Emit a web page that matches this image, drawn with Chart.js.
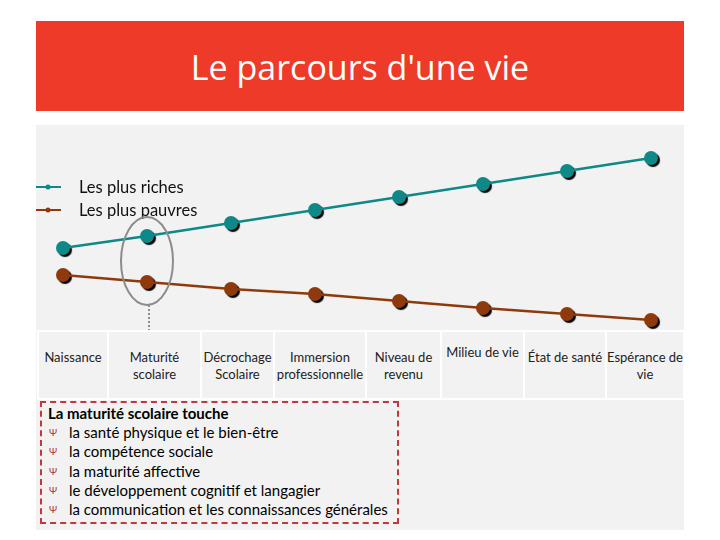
<!DOCTYPE html>
<html lang="fr">
<head>
<meta charset="UTF-8">
<title>Le parcours d'une vie</title>
<script src="https://cdn.jsdelivr.net/npm/chart.js"></script>
<style>
    body { margin: 0; width: 720px; height: 540px; background: #fff; position: relative; font-family: Lato, "Open Sans", sans-serif; overflow: hidden; }
    #banner { position: absolute; left: 36px; top: 21px; width: 648px; height: 90px; background: #EE3A28; color: #fff;
              font-family: "Open Sans", Lato, sans-serif; font-size: 34px; text-align: center; line-height: 92px; }
    #panel { position: absolute; left: 36px; top: 125px; width: 648px; height: 405px; background: #F2F2F2; }
    #chartBox { position: absolute; left: 36px; top: 125px; width: 648px; height: 205px; }
    #labels { position: absolute; left: 37px; top: 330px; height: 70px; display: flex; background: #fff; }
    #labels div { box-sizing: border-box; height: 66px; margin: 2px 2px 2px 0; padding-top: 17px; text-align: center;
                  font-size: 13px; line-height: 17px; color: #222; background: #F2F2F2; }
    #labels div:first-child { margin-left: 2px; }
    #note { position: absolute; left: 40px; top: 401px; width: 349px; height: 118px; border: 2px dashed #C0393F;
            padding: 1px 0 0 6px; font-size: 15px; line-height: 19.2px; color: #000; white-space: nowrap; }
    #note b { font-weight: 700; }
    #note ul { margin: 0; padding: 0; list-style: none; }
    #note li { margin: 0; padding: 0; }
    #note .bul { display: inline-block; width: 21px; padding-left: 1px; box-sizing: border-box; font-size: 10px; color: #B03A3A; vertical-align: top; }
</style>
</head>
<body>
<div id="banner">Le parcours d'une vie</div>
<div id="panel"></div>
<div id="chartBox"><canvas id="lifeChart"></canvas></div>
<div id="labels"></div>
<div id="note">
    <b>La maturité scolaire touche</b>
    <ul id="noteList"></ul>
</div>

<script>
    // Etapes de la vie (catégories)
    const categories = [
        ['Naissance'], ['Maturité', 'scolaire'], ['Décrochage', 'Scolaire'], ['Immersion', 'professionnelle'],
        ['Niveau de', 'revenu'], ['Milieu de vie'], ['État de santé'], ['Espérance de', 'vie']
    ];
    const colWidths = [68, 91, 71, 90, 73, 81, 80, 76];

    // Valeurs (échelle arbitraire)
    const richest = [46, 52, 58.5, 65, 71.5, 78, 84.5, 91];
    const poorest = [32.5, 29, 25.5, 23, 19.5, 16, 13, 10];

    const noteItems = [
        'la santé physique et le bien-être',
        'la compétence sociale',
        'la maturité affective',
        'le développement cognitif et langagier',
        'la communication et les connaissances générales'
    ];

    const teal = '#0F8888';
    const brown = '#8E3A0C';

    // Label row
    const row = document.getElementById('labels');
    categories.forEach((c, i) => {
        const cell = document.createElement('div');
        cell.style.width = colWidths[i] + 'px';
        if (c[0] === 'Milieu de vie') cell.style.paddingTop = '12px';
        cell.innerHTML = c.join('<br>');
        row.appendChild(cell);
    });
    document.getElementById('noteList').innerHTML =
        noteItems.map(t => `<li><span class="bul">\u03A8</span>${t}</li>`).join('');

    // shadow only on the point datasets
    const shadowPlugin = {
        id: 'shadow',
        beforeDatasetDraw(chart, args) {
            const ds = chart.data.datasets[args.index];
            if (!ds.shadow) return;
            const ctx = chart.ctx;
            ctx.save();
            ctx.shadowColor = '#000';
            ctx.shadowOffsetX = 2;
            ctx.shadowOffsetY = 2;
            ctx.shadowBlur = 1;
        },
        afterDatasetDraw(chart, args) {
            if (chart.data.datasets[args.index].shadow) chart.ctx.restore();
        }
    };

    // legend in the top left + circle around "Maturité scolaire"
    const extrasPlugin = {
        id: 'extras',
        afterDraw(chart) {
            const ctx = chart.ctx;
            const x = chart.scales.x, y = chart.scales.y;
            ctx.save();
            chart.data.datasets.slice(0, 2).forEach((ds, i) => {
                const ly = 62 + i * 23;
                ctx.strokeStyle = ds.borderColor;
                ctx.fillStyle = ds.borderColor;
                ctx.lineWidth = 2;
                ctx.beginPath(); ctx.moveTo(0, ly); ctx.lineTo(25, ly); ctx.stroke();
                ctx.beginPath(); ctx.arc(12, ly, 2.5, 0, Math.PI * 2); ctx.fill();
                ctx.fillStyle = '#111';
                ctx.font = '16.5px Lato';
                ctx.textBaseline = 'middle';
                ctx.fillText(ds.label, 43, ly + 1);
            });

            const cx = x.getPixelForValue(1);
            const top = y.getPixelForValue(richest[1]);
            const bot = y.getPixelForValue(poorest[1]);
            const cy = (top + bot) / 2 + 2;
            const ry = (bot - top) / 2 + 21;
            ctx.strokeStyle = '#8C8C8C';
            ctx.lineWidth = 2;
            ctx.beginPath();
            ctx.ellipse(cx, cy, 26, ry, 0, 0, Math.PI * 2);
            ctx.stroke();
            ctx.setLineDash([2, 2]);
            ctx.beginPath();
            ctx.moveTo(cx + 2, cy + ry);
            ctx.lineTo(cx + 2, chart.height);
            ctx.stroke();
            ctx.restore();
        }
    };

    const labels = categories.map(c => c.join(' '));
    new Chart(document.getElementById('lifeChart'), {
        type: 'line',
        data: {
            labels: labels,
            datasets: [
                { label: 'Les plus riches', data: richest, borderColor: teal, borderWidth: 2.5, pointRadius: 0 },
                { label: 'Les plus pauvres', data: poorest, borderColor: brown, borderWidth: 2.5, pointRadius: 0 },
                { label: 'riches', data: richest, showLine: false, pointRadius: 7, pointBackgroundColor: teal, pointBorderWidth: 0, shadow: true },
                { label: 'pauvres', data: poorest, showLine: false, pointRadius: 7, pointBackgroundColor: brown, pointBorderWidth: 0, shadow: true }
            ]
        },
        options: {
            responsive: true,
            maintainAspectRatio: false,
            animation: false,
            clip: false,
            layout: { padding: { left: 27, right: 33, top: 15, bottom: 10 } },
            scales: {
                x: { display: false },
                y: { display: false, min: 10, max: 100 }
            },
            plugins: { legend: { display: false }, tooltip: { enabled: false } }
        },
        plugins: [shadowPlugin, extrasPlugin]
    });
</script>
</body>
</html>
